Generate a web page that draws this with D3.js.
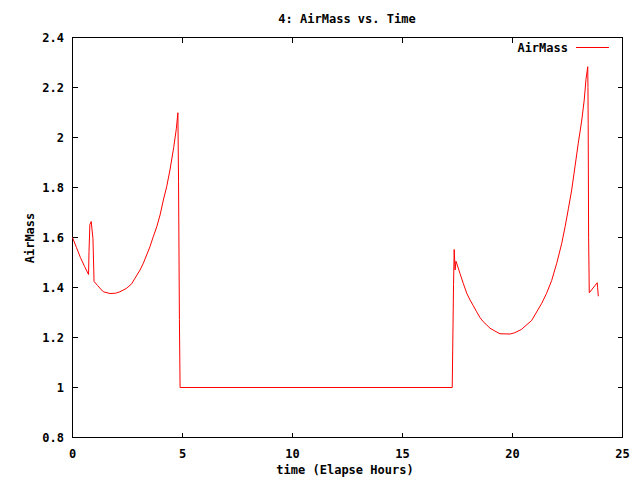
<!DOCTYPE html>
<html>
<head>
<meta charset="utf-8">
<script src="https://cdn.jsdelivr.net/npm/d3@7"></script>
<style>
  body { margin: 0; background: #fff; }
  svg text { font-family: "DejaVu Sans Mono", monospace; font-size: 12px; font-weight: bold; fill: #000; }
</style>
</head>
<body>
<svg id="chart" width="640" height="480"></svg>
<script>
// elapsed hours and airmass
const hours = [
  0, 0.18, 0.36, 0.55, 0.73, 0.75, 0.79, 0.85, 0.93, 0.98,
  1.14, 1.28, 1.4, 1.7, 1.95, 2.16, 2.46, 2.69, 2.84, 3.07,
  3.22, 3.37, 3.52, 3.67, 3.83, 3.98, 4.13, 4.28, 4.43, 4.6,
  4.72, 4.79, 4.82, 4.86, 4.89, 17.26, 17.32, 17.35, 17.39, 17.43,
  17.49, 17.61, 17.76, 17.92, 18.07, 18.22, 18.37, 18.52, 18.67, 18.83,
  18.98, 19.2, 19.43, 19.89, 20.1, 20.4, 20.87, 21.33, 21.55, 21.78,
  22.01, 22.24, 22.39, 22.54, 22.69, 22.84, 22.99, 23.15, 23.26, 23.34,
  23.42, 23.43, 23.44, 23.46, 23.49, 23.85, 23.87, 23.9
];
const airmass = [
  1.6, 1.56, 1.52, 1.484, 1.452, 1.544, 1.652, 1.664, 1.596, 1.424,
  1.408, 1.394, 1.383, 1.376, 1.377, 1.383, 1.397, 1.415, 1.437, 1.47,
  1.497, 1.53, 1.563, 1.603, 1.643, 1.69, 1.75, 1.803, 1.87, 1.96,
  2.035, 2.099, 1.825, 1.272, 1.0, 1.0, 1.412, 1.552, 1.47, 1.505,
  1.49, 1.457, 1.417, 1.377, 1.35, 1.327, 1.303, 1.28, 1.263, 1.25,
  1.237, 1.226, 1.215, 1.214, 1.219, 1.232, 1.268, 1.337, 1.377, 1.428,
  1.497, 1.577, 1.643, 1.715, 1.79, 1.883, 1.977, 2.07, 2.15, 2.232,
  2.283, 2.2, 2.055, 1.601, 1.379, 1.419, 1.399, 1.365
];
const xTicks = [0, 5, 10, 15, 20, 25];
const yTicks = [0.8, 1, 1.2, 1.4, 1.6, 1.8, 2, 2.2, 2.4];

const svg = d3.select('#chart');
const x = d3.scaleLinear().domain([0, 25]).range([72.5, 622.5]);
const y = d3.scaleLinear().domain([0.8, 2.4]).range([437.5, 37.5]);
const tickLen = 5;

const frame = svg.append('g').attr('stroke', '#000').attr('stroke-width', 1).attr('shape-rendering', 'crispEdges');

// ticks on all four sides, pointing inward (gnuplot style)
xTicks.forEach(t => {
  frame.append('line').attr('x1', x(t)).attr('x2', x(t)).attr('y1', y(0.8)).attr('y2', y(0.8) - tickLen);
  frame.append('line').attr('x1', x(t)).attr('x2', x(t)).attr('y1', y(2.4)).attr('y2', y(2.4) + tickLen);
});
yTicks.forEach(t => {
  frame.append('line').attr('x1', x(0)).attr('x2', x(0) + tickLen).attr('y1', y(t)).attr('y2', y(t));
  frame.append('line').attr('x1', x(25)).attr('x2', x(25) - tickLen).attr('y1', y(t)).attr('y2', y(t));
});
frame.append('rect')
  .attr('x', x(0)).attr('y', y(2.4))
  .attr('width', x(25) - x(0)).attr('height', y(0.8) - y(2.4))
  .attr('fill', 'none');

svg.append('g').selectAll('text').data(xTicks).enter().append('text')
  .attr('x', d => x(d)).attr('y', 458)
  .attr('text-anchor', 'middle')
  .text(d => d);

svg.append('g').selectAll('text').data(yTicks).enter().append('text')
  .attr('x', 64).attr('y', d => y(d) + 4)
  .attr('text-anchor', 'end')
  .text(d => d3.format('.1~f')(d));

const line = d3.line().x(d => x(d[0])).y(d => y(d[1]));
svg.append('path')
  .datum(hours.map((h, i) => [h, airmass[i]]))
  .attr('d', line)
  .attr('fill', 'none')
  .attr('stroke', '#ff0000')
  .attr('stroke-width', 1);

svg.append('text').attr('x', 347).attr('y', 23).attr('text-anchor', 'middle').text('4: AirMass vs. Time');
svg.append('text').attr('x', 345).attr('y', 474).attr('text-anchor', 'middle').text('time (Elapse Hours)');
svg.append('text')
  .attr('transform', 'translate(34,238) rotate(-90)')
  .attr('text-anchor', 'middle')
  .text('AirMass');

// key
svg.append('text').attr('x', 568).attr('y', 52).attr('text-anchor', 'end').text('AirMass');
svg.append('line')
  .attr('x1', 576).attr('x2', 609).attr('y1', 47.5).attr('y2', 47.5)
  .attr('stroke', '#ff0000').attr('stroke-width', 1);
</script>
</body>
</html>
